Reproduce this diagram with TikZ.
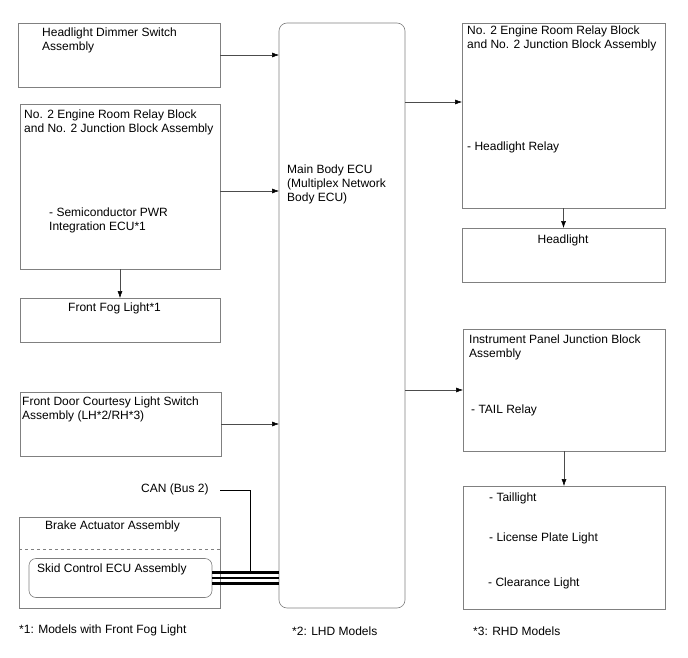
\documentclass[tikz,border=0pt]{standalone}
\usepackage{fontspec}
\setmainfont{Liberation Sans}
\usetikzlibrary{arrows.meta}
\begin{document}
\begin{tikzpicture}[x=1pt,y=-1pt,
  box/.style={draw=gray,line width=0.6pt,inner sep=0pt,outer sep=0pt,anchor=north west},
  txt/.style={anchor=base west,inner sep=0pt,align=left,font=\fontsize{12}{14}\selectfont},
  arr/.style={draw=black!70,line width=0.5pt,-{Latex[length=7pt,width=5pt,black]}},
  bus/.style={line width=3.3pt}]
\useasboundingbox (0,0) rectangle (688,658);
\node[box,minimum width=202pt,minimum height=64pt] (dimmer) at (18,23) {};
\node[box,minimum width=200pt,minimum height=165pt] (errbL) at (20,104) {};
\node[box,minimum width=200pt,minimum height=44pt] (fog) at (20,298) {};
\node[box,minimum width=201pt,minimum height=64pt] (door) at (20,392) {};
\node[box,minimum width=201pt,minimum height=91pt] (brake) at (19,517) {};
\node[box,rounded corners=7pt,minimum width=183pt,minimum height=39pt] (skid) at (29,558.5) {};
\node[box,rounded corners=8pt,minimum width=126pt,minimum height=585pt] (ecu) at (279,23) {};
\node[box,minimum width=203pt,minimum height=185pt] (errbR) at (462,23) {};
\node[box,minimum width=203pt,minimum height=54pt] (head) at (462,228) {};
\node[box,minimum width=202pt,minimum height=122pt] (ipjb) at (463,329) {};
\node[box,minimum width=202pt,minimum height=123pt] (tail) at (463,486) {};
\draw[gray,dashed,line width=0.6pt] ([yshift=13pt]brake.west) -- ([yshift=13pt]brake.east);
\node[txt] (dimmerT) at (42,51) {Headlight Dimmer Switch\\Assembly};
\node[txt] (errbLT) at (24,133) {No. 2 Engine Room Relay Block\\and No. 2 Junction Block Assembly};
\node[txt] (semiT) at (49,230) {- Semiconductor PWR\\Integration ECU*1};
\node[txt] (fogT) at (68,311) {Front Fog Light*1};
\node[txt] (doorT) at (22,419) {Front Door Courtesy Light Switch\\Assembly (LH*2/RH*3)};
\node[txt] (canT) at (141,492) {CAN (Bus 2)};
\node[txt] (brakeT) at (45,529) {Brake Actuator Assembly};
\node[txt] (skidT) at (37,572) {Skid Control ECU Assembly};
\node[txt] (ecuT) at (287,201) {Main Body ECU\\(Multiplex Network\\Body ECU)};
\node[txt] (errbRT) at (467,49) {No. 2 Engine Room Relay Block\\and No. 2 Junction Block Assembly};
\node[txt] (relayT) at (467,150) {- Headlight Relay};
\node[txt,anchor=base] (headT) at (563,243) {Headlight};
\node[txt] (ipjbT) at (469,357) {Instrument Panel Junction Block\\Assembly};
\node[txt] (tailRT) at (471,413) {- TAIL Relay};
\node[txt] (tail1) at (489,501) {- Taillight};
\node[txt] (tail2) at (489,541) {- License Plate Light};
\node[txt] (tail3) at (488,586) {- Clearance Light};
\node[txt] (note1) at (19,633) {*1: Models with Front Fog Light};
\node[txt] (note2) at (292,635) {*2: LHD Models};
\node[txt] (note3) at (473,635) {*3: RHD Models};
\coordinate (canA) at (220,490.7);
\coordinate (toR1) at (462,102);
\draw[arr] (dimmer.east) -- (dimmer.east -| ecu.west);
\draw[arr] ([yshift=-4.5pt]errbL.east) -- ([yshift=-4.5pt]errbL.east -| ecu.west);
\draw[arr] (door.east) -- (door.east -| ecu.west);
\draw[arr] (errbL.south) -- (fog.north -| errbL.south);
\draw[arr] (toR1 -| ecu.east) -- (toR1);
\draw[arr] (ipjb.west -| ecu.east) -- (ipjb.west);
\draw[arr] (errbR.south) -- (head.north -| errbR.south);
\draw[arr] (ipjb.south) -- (tail.north -| ipjb.south);
\draw[bus] ([yshift=5.5pt]skid.east) -- ([yshift=5.5pt]skid.east -| ecu.west);
\draw[line width=1.2pt] (skid.east) -- (skid.east -| ecu.west);
\draw[bus] ([yshift=-5.5pt]skid.east) -- ([yshift=-5.5pt]skid.east -| ecu.west);
\draw[line width=0.8pt] (canA) -| ([yshift=5.5pt]skid.east -| 250,0);
\end{tikzpicture}
\end{document}
